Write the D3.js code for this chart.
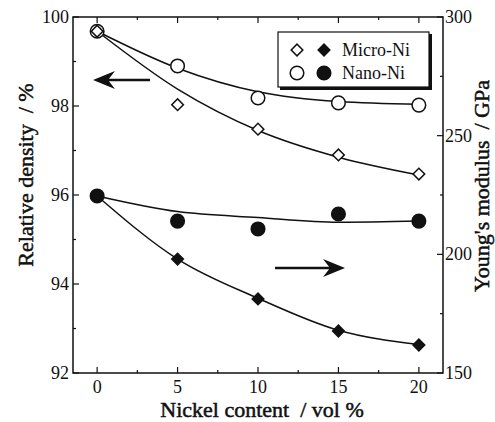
<!DOCTYPE html>
<html>
<head>
<meta charset="utf-8">
<script src="https://cdn.jsdelivr.net/npm/d3@7"></script>
<style>
  body { margin: 0; background: #fff; }
  svg text { font-family: "Liberation Serif", "DejaVu Serif", serif; fill: #111; }
</style>
</head>
<body>
<svg id="chart" width="495" height="422"></svg>
<script>
// nickel content (vol %)
var nickel = [0, 5, 10, 15, 20];

// relative density (%) - open symbols, left axis
var densityMicro = [99.68, 98.03, 97.48, 96.9, 96.47];
var densityNano = [99.68, 98.9, 98.18, 98.07, 98.02];
var densityMicroFit = [99.68, 98.38, 97.45, 96.85, 96.45];
var densityNanoFit = [99.68, 98.85, 98.32, 98.1, 98.04];

// Young's modulus (GPa) - filled symbols, right axis
var modulusMicro = [224.6, 198, 181.2, 167.7, 161.8];
var modulusNano = [224.6, 214, 210.7, 217, 214];
var modulusMicroFit = [224.6, 198, 181.5, 168, 162];
var modulusNanoFit = [224.6, 218, 215.5, 213.5, 214];

var xTicks = [0, 5, 10, 15, 20];
var leftTicks = [92, 94, 96, 98, 100];
var rightTicks = [150, 200, 250, 300];

var svg = d3.select("#chart");
var pLeft = 73, pRight = 443, pTop = 17, pBottom = 373;

var x = d3.scaleLinear().domain([-1.5, 21.5]).range([pLeft, pRight]);
var yL = d3.scaleLinear().domain([92, 100]).range([pBottom, pTop]);
var yR = d3.scaleLinear().domain([150, 300]).range([pBottom, pTop]);

// frame
svg.append("rect")
    .attr("x", pLeft).attr("y", pTop)
    .attr("width", pRight - pLeft).attr("height", pBottom - pTop)
    .attr("fill", "none").attr("stroke", "#111").attr("stroke-width", 1.5);

// ticks (inward), major and minor
var g = svg.append("g").attr("stroke", "#111").attr("stroke-width", 1.2);
d3.range(0, 20.1, 2.5).forEach(function (v) {
    var len = (v % 5 === 0) ? 6 : 3;
    g.append("line").attr("x1", x(v)).attr("x2", x(v)).attr("y1", pBottom).attr("y2", pBottom - len);
    g.append("line").attr("x1", x(v)).attr("x2", x(v)).attr("y1", pTop).attr("y2", pTop + len);
});
d3.range(92, 100.1, 1).forEach(function (v) {
    var len = (v % 2 === 0) ? 6 : 3;
    g.append("line").attr("x1", pLeft).attr("x2", pLeft + len).attr("y1", yL(v)).attr("y2", yL(v));
});
d3.range(150, 300.1, 25).forEach(function (v) {
    var len = (v % 50 === 0) ? 6 : 3;
    g.append("line").attr("x1", pRight).attr("x2", pRight - len).attr("y1", yR(v)).attr("y2", yR(v));
});

// tick labels
svg.selectAll("text.xt").data(xTicks).enter().append("text").attr("class", "xt")
    .attr("x", function (d) { return x(d); }).attr("y", pBottom + 20)
    .attr("text-anchor", "middle").attr("font-size", 18).text(function (d) { return d; });
svg.selectAll("text.yl").data(leftTicks).enter().append("text").attr("class", "yl")
    .attr("x", pLeft - 4).attr("y", function (d) { return yL(d) + 6; })
    .attr("text-anchor", "end").attr("font-size", 18).text(function (d) { return d; });
svg.selectAll("text.yr").data(rightTicks).enter().append("text").attr("class", "yr")
    .attr("x", pRight + 2).attr("y", function (d) { return yR(d) + 6; })
    .attr("text-anchor", "start").attr("font-size", 18).text(function (d) { return d; });

// axis titles
function title(tx, ty, rot, txt) {
    svg.append("text").attr("transform", "translate(" + tx + "," + ty + ")" + (rot ? " rotate(-90)" : ""))
        .attr("text-anchor", "middle").attr("font-size", 22)
        .attr("stroke", "#111").attr("stroke-width", 0.5)
        .attr("xml:space", "preserve").style("white-space", "pre")
        .text(txt);
}
title(262, 417, false, "Nickel content  / vol %");
title(33, 175, true, "Relative density  / %");
title(489, 186, true, "Young's modulus  / GPa");

// fit curves
function curve(vals, ys) {
    var line = d3.line()
        .x(function (d, i) { return x(nickel[i]); })
        .y(function (d) { return ys(d); })
        .curve(d3.curveMonotoneX);
    svg.append("path").attr("d", line(vals))
        .attr("fill", "none").attr("stroke", "#111").attr("stroke-width", 1.5);
}
curve(densityMicroFit, yL);
curve(densityNanoFit, yL);
curve(modulusMicroFit, yR);
curve(modulusNanoFit, yR);

// markers
var diamond = d3.symbol().type(d3.symbolSquare).size(68);
function points(vals, ys, kind, filled) {
    var sel = svg.append("g").selectAll("path").data(vals).enter();
    if (kind === "circle") {
        sel.append("circle")
            .attr("cx", function (d, i) { return x(nickel[i]); })
            .attr("cy", function (d) { return ys(d); })
            .attr("r", 6.8)
            .attr("fill", filled ? "#111" : "#fff").attr("stroke", "#111").attr("stroke-width", 1.5);
    } else {
        sel.append("path").attr("d", diamond)
            .attr("transform", function (d, i) { return "translate(" + x(nickel[i]) + "," + ys(d) + ") rotate(45)"; })
            .attr("fill", filled ? "#111" : "#fff").attr("stroke", "#111").attr("stroke-width", 1.5);
    }
}
points(densityNano, yL, "circle", false);
points(densityMicro, yL, "diamond", false);
points(modulusNano, yR, "circle", true);
points(modulusMicro, yR, "diamond", true);

// arrows
function arrow(x1, x2, y) {
    var dir = x2 > x1 ? 1 : -1;
    svg.append("line").attr("x1", x1).attr("x2", x2 - dir * 14).attr("y1", y).attr("y2", y)
        .attr("stroke", "#111").attr("stroke-width", 2.5);
    svg.append("path")
        .attr("d", "M" + x2 + "," + y + " L" + (x2 - dir * 22) + "," + (y - 9) +
            " L" + (x2 - dir * 15) + "," + y + " L" + (x2 - dir * 22) + "," + (y + 9) + "Z")
        .attr("fill", "#111");
}
arrow(150, 93, 80);
arrow(275, 345, 268);

// legend
var lg = svg.append("g");
lg.append("rect").attr("x", 280).attr("y", 34).attr("width", 152).attr("height", 56).attr("fill", "#111");
lg.append("rect").attr("x", 278).attr("y", 32).attr("width", 151).attr("height", 55)
    .attr("fill", "#fff").attr("stroke", "#111").attr("stroke-width", 1.2);
var legendRows = [["Micro-Ni", "diamond", 50], ["Nano-Ni", "circle", 73]];
legendRows.forEach(function (r) {
    [[297, false], [324, true]].forEach(function (s) {
        if (r[1] === "circle") {
            lg.append("circle").attr("cx", s[0]).attr("cy", r[2]).attr("r", 6.8)
                .attr("fill", s[1] ? "#111" : "#fff").attr("stroke", "#111").attr("stroke-width", 1.5);
        } else {
            lg.append("path").attr("d", diamond)
                .attr("transform", "translate(" + s[0] + "," + r[2] + ") rotate(45)")
                .attr("fill", s[1] ? "#111" : "#fff").attr("stroke", "#111").attr("stroke-width", 1.5);
        }
    });
    lg.append("text").attr("x", 342).attr("y", r[2] + 6).attr("font-size", 18).text(r[0]);
});
</script>
</body>
</html>
